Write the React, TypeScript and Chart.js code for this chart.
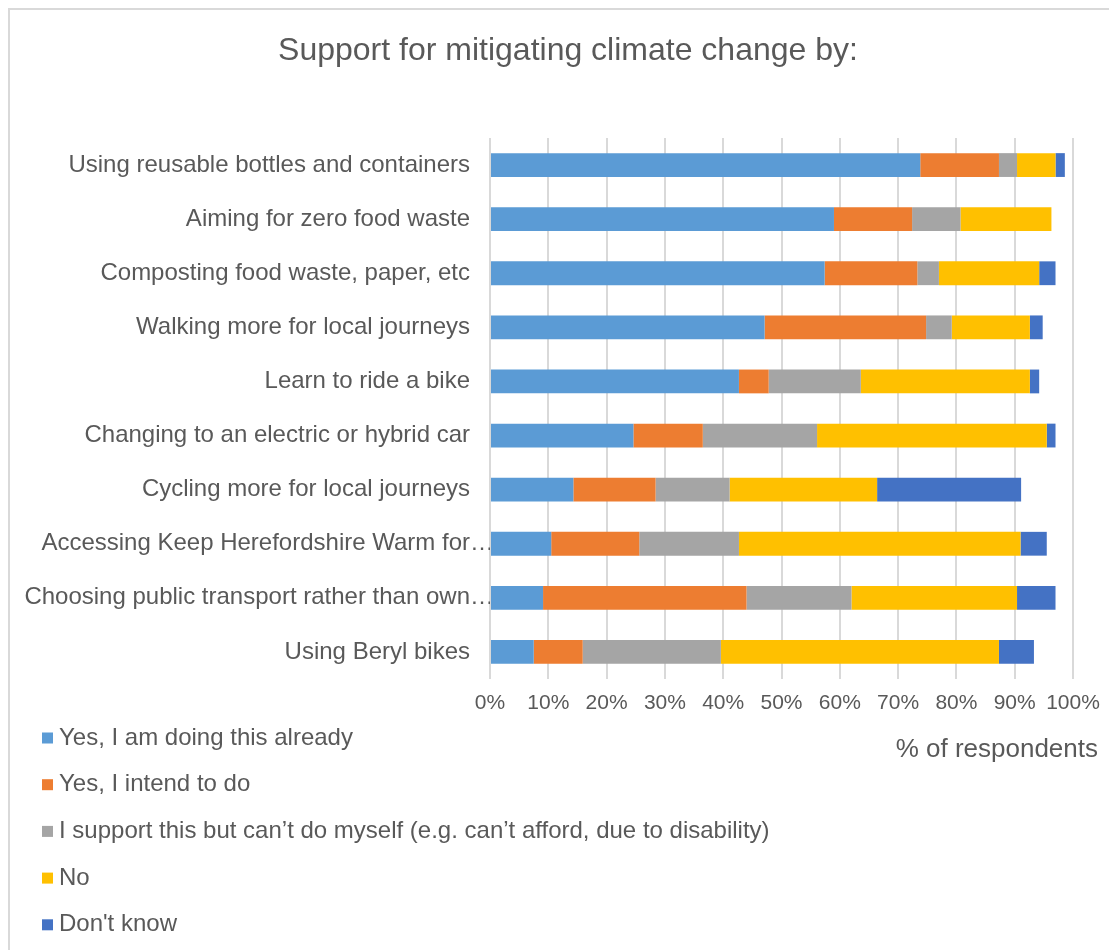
import React, { useEffect, useRef } from "react";
import { Chart, registerables } from "chart.js";

Chart.register(...registerables);

const FONT = "'Liberation Sans', Arial, sans-serif";
const TEXT = "#595959";
const GRID = "#d9d9d9";

const chartTitle = "Support for mitigating climate change by:";
const xAxisTitle = "% of respondents";

const categories = [
  "Using reusable bottles and containers",
  "Aiming for zero food waste",
  "Composting food waste, paper, etc",
  "Walking more for local journeys",
  "Learn to ride a bike",
  "Changing to an electric or hybrid car",
  "Cycling more for local journeys",
  "Accessing Keep Herefordshire Warm for…",
  "Choosing public transport rather than own…",
  "Using Beryl bikes",
];

const seriesNames = [
  "Yes, I am doing this already",
  "Yes, I intend to do",
  "I support this but can’t do myself (e.g. can’t afford, due to disability)",
  "No",
  "Don't know",
];

const seriesColors = ["#5B9BD5", "#ED7D31", "#A5A5A5", "#FFC000", "#4472C4"];

const doingAlready = [73.8, 59.0, 57.4, 47.1, 42.7, 24.6, 14.3, 10.5, 9.1, 7.5];
const intendTo = [13.5, 13.4, 15.9, 27.7, 5.1, 11.9, 14.1, 15.1, 34.9, 8.4];
const supportCantDo = [3.1, 8.3, 3.7, 4.4, 15.8, 19.6, 12.7, 17.1, 18.0, 23.7];
const no = [6.6, 15.6, 17.2, 13.4, 29.0, 39.4, 25.3, 48.3, 28.4, 47.7];
const dontKnow = [1.6, 0, 2.8, 2.2, 1.6, 1.5, 24.7, 4.5, 6.6, 6.0];

const xTickValues = [0, 10, 20, 30, 40, 50, 60, 70, 80, 90, 100];
const xTickLabels = ["0%", "10%", "20%", "30%", "40%", "50%", "60%", "70%", "80%", "90%", "100%"];

const seriesValues = [doingAlready, intendTo, supportCantDo, no, dontKnow];

const extrasPlugin = {
  id: "excelExtras",
  afterDraw(chart: any) {
    const ctx = chart.ctx as CanvasRenderingContext2D;
    const area = chart.chartArea;
    ctx.save();
    // Title
    ctx.fillStyle = TEXT;
    ctx.font = `32px ${FONT}`;
    ctx.textAlign = "center";
    ctx.textBaseline = "alphabetic";
    ctx.fillText(chartTitle, 558, 50);
    // X axis title
    ctx.font = `26px ${FONT}`;
    ctx.textAlign = "right";
    ctx.fillText(xAxisTitle, area.right + 25, 747);
    // Legend (vertical list)
    ctx.font = `24px ${FONT}`;
    ctx.textAlign = "left";
    ctx.textBaseline = "middle";
    chart.data.datasets.forEach((ds: any, i: number) => {
      const cy = 728 + i * 46.7;
      ctx.fillStyle = ds.backgroundColor;
      ctx.fillRect(32, cy - 5.5, 11, 11);
      ctx.fillStyle = TEXT;
      ctx.fillText(ds.label, 49, cy);
    });
    ctx.restore();
  },
};

export default function App() {
  const canvasRef = useRef<HTMLCanvasElement | null>(null);

  useEffect(() => {
    if (!canvasRef.current) return;
    Chart.defaults.font.family = FONT;
    const chart = new Chart(canvasRef.current, {
      type: "bar",
      data: {
        labels: categories,
        datasets: seriesNames.map((name, i) => ({
          label: name,
          data: seriesValues[i],
          backgroundColor: seriesColors[i],
          borderWidth: 0,
          barPercentage: 0.44,
          categoryPercentage: 1,
        })),
      },
      options: {
        indexAxis: "y",
        animation: false,
        responsive: true,
        maintainAspectRatio: false,
        layout: { padding: { top: 128, right: 44, bottom: 235, left: 0 } },
        plugins: {
          legend: { display: false },
          title: { display: false },
          tooltip: { enabled: false },
        },
        scales: {
          x: {
            stacked: true,
            min: 0,
            max: 100,
            afterBuildTicks: (scale: any) => {
              scale.ticks = xTickValues.map((v) => ({ value: v }));
            },
            afterFit: (scale: any) => {
              scale.height = 36;
            },
            ticks: {
              color: TEXT,
              font: { size: 21, family: FONT },
              padding: 12,
              maxRotation: 0,
              autoSkip: false,
              callback: (v: any) => xTickLabels[xTickValues.indexOf(Number(v))] ?? `${v}%`,
            },
            grid: { color: GRID, lineWidth: 2, drawTicks: false },
            border: { display: false },
          },
          y: {
            stacked: true,
            afterFit: (scale: any) => {
              scale.width = 480;
            },
            ticks: {
              color: TEXT,
              font: { size: 24, family: FONT },
              padding: -4,
              autoSkip: false,
              // truncated labels let their ellipsis hang past the label column, as in the original
              callback: (_v: any, i: number) => {
                const s = categories[i];
                return s.endsWith("…") ? s : s + "\u2003";
              },
            },
            grid: { display: false, drawTicks: false },
            border: { display: false },
          },
        },
      },
      plugins: [extrasPlugin],
    });
    return () => chart.destroy();
  }, []);

  return (
    <div
      style={{
        position: "relative",
        width: 1109,
        height: 942,
        boxSizing: "border-box",
        borderLeft: `2px solid ${GRID}`,
        borderTop: `2px solid ${GRID}`,
        overflow: "hidden",
        background: "#ffffff",
      }}
    >
      <canvas ref={canvasRef} style={{ display: "block" }} />
    </div>
  );
}
